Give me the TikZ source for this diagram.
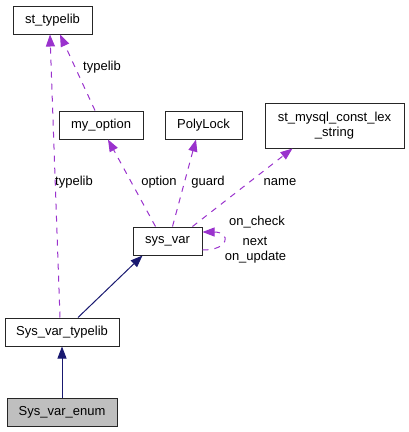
\documentclass[tikz,border=0pt]{standalone}
\usepackage{fontspec}
\setmainfont{Liberation Sans}
\usetikzlibrary{arrows.meta,calc}
\definecolor{dep}{HTML}{9A32CD}
\definecolor{inh}{HTML}{191970}
\tikzset{
  box/.style={draw=black!85,line width=1pt,minimum height=28pt,inner sep=0pt,font=\fontsize{13pt}{15pt}\selectfont,text=black},
  deparrow/.style={draw=dep,line width=1pt,dash pattern=on 6pt off 6pt,-{Triangle[length=12pt,width=9pt,fill=dep]}},
  inharrow/.style={draw=inh,line width=1pt,-{Triangle[length=12pt,width=9pt,fill=inh]}},
  lbl/.style={font=\fontsize{13pt}{15pt}\selectfont,text=black,inner sep=0pt}
}
\begin{document}
\begin{tikzpicture}[x=1pt,y=-1pt]
\useasboundingbox (0,0) rectangle (409,432);
\node[box,minimum width=79pt] (stl) at (52.5,20) {st\_typelib};
\node[box,minimum width=84pt] (mo) at (101,125) {my\_option};
\node[box,minimum width=77pt] (pl) at (203.5,125) {PolyLock};
\node[box,minimum width=139pt,minimum height=45pt,align=center] (sml) at (334.5,125.5) {st\_mysql\_const\_lex\\\_string};
\node[box,minimum width=69pt] (sv) at (167.5,241) {sys\_var};
\node[box,minimum width=114pt] (svt) at (62,332) {Sys\_var\_typelib};
\node[box,minimum width=110pt,fill=black!25] (sve) at (62,412) {Sys\_var\_enum};

\draw[deparrow] ($(svt.north)+(-2,0)$) -- ($(stl.south)+(-2.5,0)$);
\draw[deparrow] ($(mo.north)+(-6,0)$) -- ($(stl.south)+(7.5,0)$);
\draw[deparrow] ($(sv.north)+(-12,0)$) -- ($(mo.south)+(7,0)$);
\draw[deparrow] ($(sv.north)+(5,0)$) -- ($(pl.south)+(-7.5,0)$);
\draw[deparrow] ($(sv.north east)+(-10,0)$) -- ($(sml.south)+(-42,0)$);
\draw[deparrow] ($(sv.east)+(0,9)$) .. controls +(28,0) and +(28,0) .. ($(sv.east)+(0,-9)$);
\draw[inharrow] ($(svt.north)+(16,0)$) -- ($(sv.south)+(-25,0)$);
\draw[inharrow] (sve.north) -- (svt.south);

\node[lbl] (l1) at (74,182) {typelib};
\node[lbl] (l2) at (102,67) {typelib};
\node[lbl] (l3) at (159,182) {option};
\node[lbl] (l4) at (208,182) {guard};
\node[lbl] (l5) at (280,182) {name};
\node[lbl] (l6) at (257,222) {on\_check};
\node[lbl] (l7) at (255,241) {next};
\node[lbl] (l8) at (255.5,257) {on\_update};
\end{tikzpicture}
\end{document}
